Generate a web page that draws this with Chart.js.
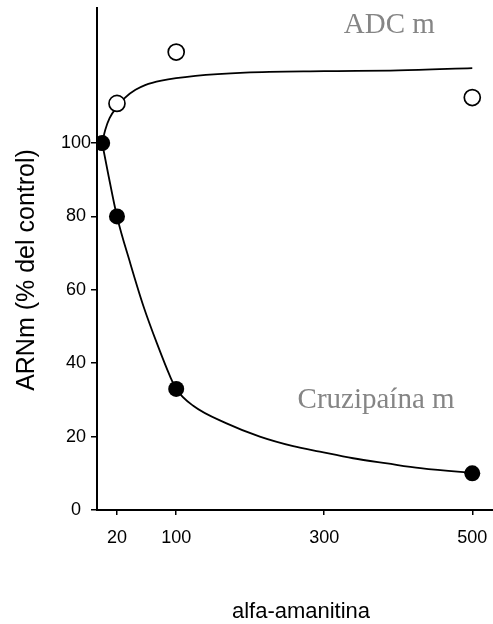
<!DOCTYPE html>
<html>
<head>
<meta charset="utf-8">
<script src="https://cdn.jsdelivr.net/npm/chart.js@4.4.1/dist/chart.umd.min.js"></script>
<style>
  html, body { margin: 0; padding: 0; background: #fff; }
  #wrap { width: 493px; height: 624px; }
</style>
</head>
<body>
<div id="wrap"><canvas id="myChart"></canvas></div>
<script>
// measured points (alfa-amanitina dose vs ARNm % del control)
const cruzDoses = [0, 20, 100, 500];
const cruzValues = [100, 80, 33, 10];
const adcDoses = [20, 100, 500];
const adcValues = [110.8, 124.8, 112.4];

// fitted curves
const cruzCurveX = [0, 8, 20, 38, 56, 74, 92, 100, 123, 168, 213, 258, 294, 339, 385, 430, 484, 500];
const cruzCurveY = [100, 91.7, 80, 67.2, 55.4, 45.4, 36.3, 33, 28.4, 23.6, 20, 17.4, 15.9, 14.1, 12.7, 11.4, 10.4, 10.2];
const adcCurveX = [0, 4, 10, 20, 31, 45, 58, 80, 126, 193, 300, 400, 500];
const adcCurveY = [100, 103.5, 106.8, 109.8, 112.4, 114.5, 115.8, 117, 118.3, 119.2, 119.6, 119.8, 120.4];

const xTicks = [20, 100, 300, 500];
const yTicks = [0, 20, 40, 60, 80, 100];

const toXY = (xs, ys) => xs.map((x, i) => ({ x: x, y: ys[i] }));

const textPlugin = {
  id: "textPlugin",
  afterDatasetsDraw(chart, args, opts) {
    const { ctx, scales } = chart;
    ctx.save();
    ctx.textAlign = "center";
    ctx.textBaseline = "alphabetic";
    opts.labels.forEach((l) => {
      ctx.font = l.font;
      ctx.fillStyle = l.color;
      ctx.fillText(l.text, scales.x.getPixelForValue(l.x), scales.y.getPixelForValue(l.y));
    });
    // axis titles
    ctx.fillStyle = "#000";
    ctx.font = "22px 'Liberation Sans', Arial, sans-serif";
    ctx.fillText("alfa-amanitina", 301, 618);
    ctx.translate(34, 270);
    ctx.rotate(-Math.PI / 2);
    ctx.font = "25px 'Liberation Sans', Arial, sans-serif";
    ctx.fillText("ARNm (% del control)", 0, 0);
    ctx.restore();
  },
};

new Chart(document.getElementById("myChart"), {
  type: "line",
  data: {
    datasets: [
      {
        label: "Cruzipaína m",
        data: toXY(cruzDoses, cruzValues),
        showLine: false,
        pointRadius: 8,
        pointBackgroundColor: "#000",
        pointBorderWidth: 0,
        order: 0,
      },
      {
        label: "ADC m",
        data: toXY(adcDoses, adcValues),
        showLine: false,
        pointRadius: 8,
        pointBackgroundColor: "#fff",
        pointBorderColor: "#000",
        pointBorderWidth: 1.7,
        order: 0,
      },
      {
        label: "Cruzipaína curve",
        data: toXY(cruzCurveX, cruzCurveY),
        borderColor: "#000",
        borderWidth: 1.8,
        pointRadius: 0,
        cubicInterpolationMode: "monotone",
        fill: false,
        order: 1,
      },
      {
        label: "ADC curve",
        data: toXY(adcCurveX, adcCurveY),
        borderColor: "#000",
        borderWidth: 1.8,
        pointRadius: 0,
        cubicInterpolationMode: "monotone",
        fill: false,
        order: 1,
      },
    ],
  },
  options: {
    responsive: true,
    maintainAspectRatio: false,
    animation: false,
    layout: { autoPadding: false, padding: { top: 8, left: 0, right: 0, bottom: 0 } },
    plugins: {
      legend: { display: false },
      tooltip: { enabled: false },
      textPlugin: {
        labels: [
          { text: "ADC m", x: 388, y: 129.9, font: "29px 'Liberation Serif', 'Times New Roman', serif", color: "#858585" },
          { text: "Cruzipaína m", x: 370, y: 27.7, font: "29px 'Liberation Serif', 'Times New Roman', serif", color: "#858585" },
        ],
      },
    },
    scales: {
      x: {
        type: "linear",
        min: -7,
        max: 528,
        border: { display: true, color: "#000", width: 2 },
        grid: { drawOnChartArea: false, drawTicks: true, tickLength: 5, color: "#000", lineWidth: 1.5 },
        ticks: {
          color: "#000",
          padding: 12,
          maxRotation: 0,
          autoSkip: false,
          font: { family: "'Liberation Sans', Arial, sans-serif", size: 18 },
        },
        afterBuildTicks: (scale) => {
          scale.ticks = xTicks.map((v) => ({ value: v }));
        },
        afterFit: (scale) => {
          scale.height = 114;
          scale.paddingLeft = 0;
          scale.paddingRight = 0;
        },
      },
      y: {
        type: "linear",
        min: 0,
        max: 136.8,
        border: { display: true, color: "#000", width: 2 },
        grid: { drawOnChartArea: false, drawTicks: true, tickLength: 6, color: "#000", lineWidth: 1.5 },
        ticks: {
          color: "#000",
          padding: 0,
          crossAlign: "center",
          font: { family: "'Liberation Sans', Arial, sans-serif", size: 18 },
        },
        afterBuildTicks: (scale) => {
          scale.ticks = yTicks.map((v) => ({ value: v }));
        },
        afterFit: (scale) => {
          scale.width = 97;
          scale.paddingTop = 0;
          scale.paddingBottom = 0;
        },
      },
    },
  },
  plugins: [textPlugin],
});
</script>
</body>
</html>
